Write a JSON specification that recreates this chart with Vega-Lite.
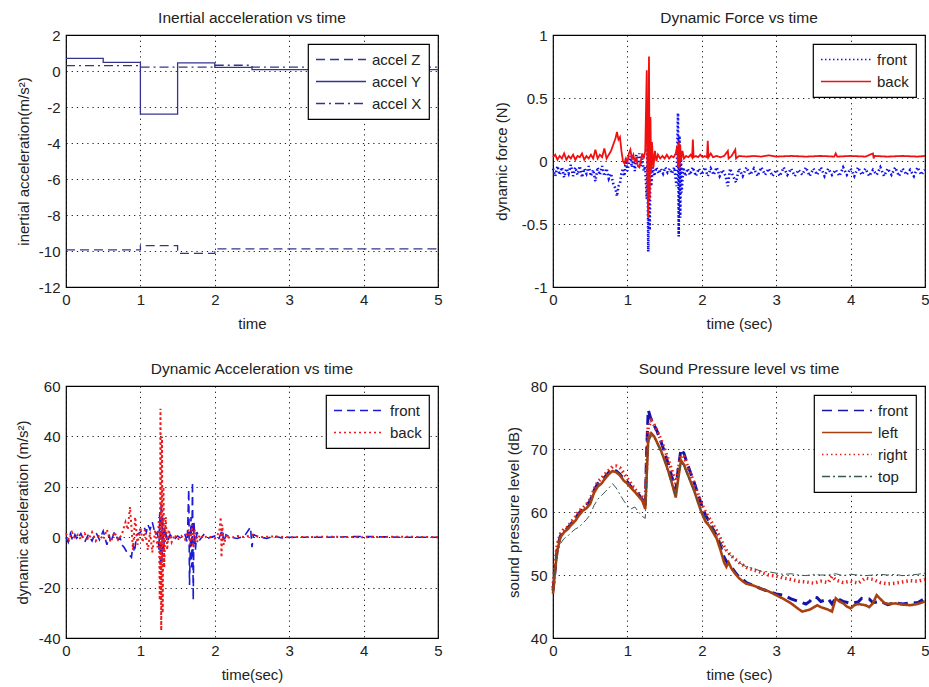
{
"$schema":"https://vega.github.io/schema/vega-lite/v6.json",
"background":"white",
"padding":{"left":14,"top":9,"right":2,"bottom":2},
"bounds":"flush",
"columns":2,
"spacing":{"row":99,"column":115},
"config":{
"font":"Liberation Sans",
"view":{"stroke":"black","strokeWidth":1.2},
"axis":{"grid":true,"gridColor":"black","gridDash":[1.2,4],"gridOpacity":0.9,"gridWidth":1,"domain":false,"ticks":false,"labelFontSize":15,"labelColor":"#222","titleFontSize":15,"titleFontWeight":"normal","titleColor":"#222","labelPadding":6,"titlePadding":7,"labelFont":"Liberation Sans","titleFont":"Liberation Sans","labelExpr":"'' + datum.value","labelFlush":false,"labelOverlap":false},
"axisX":{"labelPadding":5,"titlePadding":9},
"title":{"fontSize":15.5,"fontWeight":"normal","color":"#222","offset":2,"font":"Liberation Sans"},
"legend":{"orient":"top-right","offset":9,"strokeColor":"black","strokeWidth":1.2,"fillColor":"white","padding":7,"labelFontSize":15,"labelColor":"#222","labelFont":"Liberation Sans","title":null,"symbolType":"stroke","symbolSize":2500,"symbolStrokeWidth":1.5,"labelOffset":5,"rowPadding":5,"clipHeight":17,"cornerRadius":0}
},
"datasets":{
"ia":[
{"s":"accel Z","i":0,"t":0,"v":-9.94},{"s":"accel Z","i":1,"t":1,"v":-9.94},{"s":"accel Z","i":2,"t":1,"v":-9.7},{"s":"accel Z","i":3,"t":1.5,"v":-9.7},{"s":"accel Z","i":4,"t":1.5,"v":-10.13},{"s":"accel Z","i":5,"t":2,"v":-10.13},{"s":"accel Z","i":6,"t":2,"v":-9.88},{"s":"accel Z","i":7,"t":5,"v":-9.88},
{"s":"accel Y","i":0,"t":0,"v":0.7},{"s":"accel Y","i":1,"t":0.5,"v":0.7},{"s":"accel Y","i":2,"t":0.5,"v":0.48},{"s":"accel Y","i":3,"t":1,"v":0.48},{"s":"accel Y","i":4,"t":1,"v":-2.4},{"s":"accel Y","i":5,"t":1.5,"v":-2.4},{"s":"accel Y","i":6,"t":1.5,"v":0.45},{"s":"accel Y","i":7,"t":2,"v":0.45},{"s":"accel Y","i":8,"t":2,"v":0.2},{"s":"accel Y","i":9,"t":2.5,"v":0.2},{"s":"accel Y","i":10,"t":2.5,"v":0.08},{"s":"accel Y","i":11,"t":5,"v":0.08},
{"s":"accel X","i":0,"t":0,"v":0.3},{"s":"accel X","i":1,"t":1,"v":0.3},{"s":"accel X","i":2,"t":1,"v":0.22},{"s":"accel X","i":3,"t":2,"v":0.22},{"s":"accel X","i":4,"t":2,"v":0.32},{"s":"accel X","i":5,"t":2.5,"v":0.32},{"s":"accel X","i":6,"t":2.5,"v":0.22},{"s":"accel X","i":7,"t":5,"v":0.22}
],
"force":[
{"s":"front","t":0,"v":-0.06},{"s":"front","t":0.03,"v":-0.12},{"s":"front","t":0.06,"v":-0.04},{"s":"front","t":0.09,"v":-0.11},{"s":"front","t":0.12,"v":-0.05},{"s":"front","t":0.15,"v":-0.13},{"s":"front","t":0.18,"v":-0.06},{"s":"front","t":0.21,"v":-0.1},{"s":"front","t":0.24,"v":-0.03},{"s":"front","t":0.27,"v":-0.12},{"s":"front","t":0.3,"v":-0.05},{"s":"front","t":0.33,"v":-0.11},{"s":"front","t":0.36,"v":-0.04},{"s":"front","t":0.39,"v":-0.13},{"s":"front","t":0.42,"v":-0.06},{"s":"front","t":0.45,"v":-0.1},{"s":"front","t":0.48,"v":-0.04},{"s":"front","t":0.51,"v":-0.12},{"s":"front","t":0.54,"v":-0.07},{"s":"front","t":0.57,"v":-0.16},{"s":"front","t":0.6,"v":-0.05},{"s":"front","t":0.63,"v":-0.11},{"s":"front","t":0.66,"v":-0.04},{"s":"front","t":0.69,"v":-0.12},{"s":"front","t":0.72,"v":-0.06},{"s":"front","t":0.75,"v":-0.14},{"s":"front","t":0.78,"v":-0.1},{"s":"front","t":0.81,"v":-0.18},{"s":"front","t":0.84,"v":-0.22},{"s":"front","t":0.86,"v":-0.28},{"s":"front","t":0.88,"v":-0.2},{"s":"front","t":0.9,"v":-0.18},{"s":"front","t":0.92,"v":-0.1},{"s":"front","t":0.94,"v":-0.06},{"s":"front","t":0.96,"v":-0.12},{"s":"front","t":0.98,"v":0.02},{"s":"front","t":1,"v":-0.08},{"s":"front","t":1.02,"v":-0.02},{"s":"front","t":1.04,"v":0.04},{"s":"front","t":1.06,"v":-0.05},{"s":"front","t":1.08,"v":0.02},{"s":"front","t":1.1,"v":-0.08},{"s":"front","t":1.12,"v":0.05},{"s":"front","t":1.14,"v":-0.02},{"s":"front","t":1.16,"v":0.06},{"s":"front","t":1.18,"v":-0.04},{"s":"front","t":1.2,"v":0.02},{"s":"front","t":1.22,"v":-0.08},{"s":"front","t":1.24,"v":-0.04},{"s":"front","t":1.26,"v":-0.3},{"s":"front","t":1.27,"v":0.1},{"s":"front","t":1.28,"v":-0.72},{"s":"front","t":1.29,"v":-0.2},{"s":"front","t":1.3,"v":-0.55},{"s":"front","t":1.31,"v":0.05},{"s":"front","t":1.32,"v":-0.2},{"s":"front","t":1.34,"v":-0.05},{"s":"front","t":1.36,"v":-0.12},{"s":"front","t":1.39,"v":-0.05},{"s":"front","t":1.42,"v":-0.1},{"s":"front","t":1.45,"v":-0.06},{"s":"front","t":1.48,"v":-0.1},{"s":"front","t":1.51,"v":-0.05},{"s":"front","t":1.54,"v":-0.09},{"s":"front","t":1.57,"v":-0.06},{"s":"front","t":1.6,"v":-0.1},{"s":"front","t":1.63,"v":-0.05},{"s":"front","t":1.66,"v":-0.2},{"s":"front","t":1.68,"v":0.38},{"s":"front","t":1.69,"v":-0.6},{"s":"front","t":1.7,"v":0.2},{"s":"front","t":1.71,"v":-0.45},{"s":"front","t":1.72,"v":0.05},{"s":"front","t":1.73,"v":-0.25},{"s":"front","t":1.75,"v":-0.05},{"s":"front","t":1.78,"v":-0.12},{"s":"front","t":1.81,"v":-0.06},{"s":"front","t":1.84,"v":-0.11},{"s":"front","t":1.88,"v":-0.05},{"s":"front","t":1.92,"v":-0.12},{"s":"front","t":1.96,"v":-0.06},{"s":"front","t":2,"v":-0.11},{"s":"front","t":2.04,"v":-0.05},{"s":"front","t":2.08,"v":-0.12},{"s":"front","t":2.12,"v":-0.06},{"s":"front","t":2.16,"v":-0.11},{"s":"front","t":2.2,"v":-0.05},{"s":"front","t":2.24,"v":-0.12},{"s":"front","t":2.28,"v":-0.07},{"s":"front","t":2.32,"v":-0.12},{"s":"front","t":2.35,"v":-0.2},{"s":"front","t":2.38,"v":-0.06},{"s":"front","t":2.42,"v":-0.12},{"s":"front","t":2.46,"v":-0.17},{"s":"front","t":2.5,"v":-0.06},{"s":"front","t":2.55,"v":-0.12},{"s":"front","t":2.6,"v":-0.05},{"s":"front","t":2.65,"v":-0.11},{"s":"front","t":2.7,"v":-0.06},{"s":"front","t":2.75,"v":-0.12},{"s":"front","t":2.8,"v":-0.05},{"s":"front","t":2.85,"v":-0.11},{"s":"front","t":2.9,"v":-0.06},{"s":"front","t":2.95,"v":-0.12},{"s":"front","t":3,"v":-0.07},{"s":"front","t":3.05,"v":-0.12},{"s":"front","t":3.1,"v":-0.05},{"s":"front","t":3.15,"v":-0.11},{"s":"front","t":3.2,"v":-0.06},{"s":"front","t":3.25,"v":-0.12},{"s":"front","t":3.3,"v":-0.07},{"s":"front","t":3.35,"v":-0.11},{"s":"front","t":3.4,"v":-0.05},{"s":"front","t":3.45,"v":-0.12},{"s":"front","t":3.5,"v":-0.06},{"s":"front","t":3.55,"v":-0.11},{"s":"front","t":3.6,"v":-0.05},{"s":"front","t":3.65,"v":-0.12},{"s":"front","t":3.7,"v":-0.06},{"s":"front","t":3.75,"v":-0.11},{"s":"front","t":3.8,"v":-0.07},{"s":"front","t":3.85,"v":-0.12},{"s":"front","t":3.9,"v":-0.05},{"s":"front","t":3.95,"v":-0.11},{"s":"front","t":4,"v":-0.06},{"s":"front","t":4.05,"v":-0.12},{"s":"front","t":4.1,"v":-0.05},{"s":"front","t":4.15,"v":-0.11},{"s":"front","t":4.2,"v":-0.06},{"s":"front","t":4.25,"v":-0.12},{"s":"front","t":4.3,"v":-0.07},{"s":"front","t":4.35,"v":-0.11},{"s":"front","t":4.4,"v":-0.05},{"s":"front","t":4.45,"v":-0.12},{"s":"front","t":4.5,"v":-0.06},{"s":"front","t":4.55,"v":-0.11},{"s":"front","t":4.6,"v":-0.05},{"s":"front","t":4.65,"v":-0.12},{"s":"front","t":4.7,"v":-0.06},{"s":"front","t":4.75,"v":-0.11},{"s":"front","t":4.8,"v":-0.07},{"s":"front","t":4.85,"v":-0.12},{"s":"front","t":4.9,"v":-0.05},{"s":"front","t":4.95,"v":-0.11},{"s":"front","t":5,"v":-0.07},
{"s":"back","t":0,"v":0.03},{"s":"back","t":0.03,"v":0.05},{"s":"back","t":0.06,"v":0.01},{"s":"back","t":0.09,"v":0.04},{"s":"back","t":0.12,"v":0.02},{"s":"back","t":0.15,"v":0.06},{"s":"back","t":0.18,"v":0.01},{"s":"back","t":0.21,"v":0.04},{"s":"back","t":0.24,"v":0.02},{"s":"back","t":0.27,"v":0.05},{"s":"back","t":0.3,"v":0.01},{"s":"back","t":0.33,"v":0.04},{"s":"back","t":0.36,"v":0.03},{"s":"back","t":0.39,"v":0.06},{"s":"back","t":0.42,"v":0.01},{"s":"back","t":0.45,"v":0.04},{"s":"back","t":0.48,"v":0.02},{"s":"back","t":0.51,"v":0.05},{"s":"back","t":0.54,"v":0.02},{"s":"back","t":0.57,"v":0.09},{"s":"back","t":0.6,"v":0.02},{"s":"back","t":0.63,"v":0.05},{"s":"back","t":0.66,"v":0.03},{"s":"back","t":0.69,"v":0.1},{"s":"back","t":0.72,"v":0.02},{"s":"back","t":0.75,"v":0.05},{"s":"back","t":0.78,"v":0.08},{"s":"back","t":0.81,"v":0.13},{"s":"back","t":0.84,"v":0.18},{"s":"back","t":0.86,"v":0.23},{"s":"back","t":0.88,"v":0.17},{"s":"back","t":0.9,"v":0.19},{"s":"back","t":0.92,"v":0.08},{"s":"back","t":0.94,"v":0},{"s":"back","t":0.96,"v":-0.02},{"s":"back","t":0.98,"v":0.02},{"s":"back","t":1,"v":-0.01},{"s":"back","t":1.02,"v":0.06},{"s":"back","t":1.04,"v":0.09},{"s":"back","t":1.06,"v":0.02},{"s":"back","t":1.08,"v":0.05},{"s":"back","t":1.1,"v":-0.01},{"s":"back","t":1.12,"v":0.03},{"s":"back","t":1.14,"v":-0.04},{"s":"back","t":1.16,"v":-0.05},{"s":"back","t":1.18,"v":0},{"s":"back","t":1.2,"v":0.06},{"s":"back","t":1.22,"v":0.02},{"s":"back","t":1.24,"v":0.08},{"s":"back","t":1.26,"v":0.72},{"s":"back","t":1.27,"v":-0.2},{"s":"back","t":1.28,"v":-0.45},{"s":"back","t":1.29,"v":0.83},{"s":"back","t":1.3,"v":-0.3},{"s":"back","t":1.31,"v":0.35},{"s":"back","t":1.32,"v":-0.1},{"s":"back","t":1.33,"v":0.15},{"s":"back","t":1.35,"v":-0.05},{"s":"back","t":1.37,"v":0.08},{"s":"back","t":1.39,"v":0},{"s":"back","t":1.41,"v":0.05},{"s":"back","t":1.44,"v":0.02},{"s":"back","t":1.47,"v":0.04},{"s":"back","t":1.5,"v":0.02},{"s":"back","t":1.53,"v":0.05},{"s":"back","t":1.56,"v":0.02},{"s":"back","t":1.59,"v":0.04},{"s":"back","t":1.62,"v":0.03},{"s":"back","t":1.65,"v":0.06},{"s":"back","t":1.67,"v":0.12},{"s":"back","t":1.68,"v":-0.05},{"s":"back","t":1.69,"v":0.15},{"s":"back","t":1.7,"v":-0.06},{"s":"back","t":1.71,"v":0.13},{"s":"back","t":1.72,"v":0},{"s":"back","t":1.74,"v":0.08},{"s":"back","t":1.76,"v":0.02},{"s":"back","t":1.79,"v":0.04},{"s":"back","t":1.82,"v":0.03},{"s":"back","t":1.85,"v":0.05},{"s":"back","t":1.87,"v":0.03},{"s":"back","t":1.88,"v":0.17},{"s":"back","t":1.89,"v":0.03},{"s":"back","t":1.92,"v":0.04},{"s":"back","t":1.95,"v":0.03},{"s":"back","t":1.98,"v":0.05},{"s":"back","t":2.01,"v":0.03},{"s":"back","t":2.04,"v":0.04},{"s":"back","t":2.07,"v":0.03},{"s":"back","t":2.08,"v":0.16},{"s":"back","t":2.09,"v":0.03},{"s":"back","t":2.12,"v":0.06},{"s":"back","t":2.15,"v":0.03},{"s":"back","t":2.2,"v":0.04},{"s":"back","t":2.25,"v":0.03},{"s":"back","t":2.3,"v":0.04},{"s":"back","t":2.35,"v":0.08},{"s":"back","t":2.36,"v":0.02},{"s":"back","t":2.4,"v":0.04},{"s":"back","t":2.45,"v":0.09},{"s":"back","t":2.46,"v":0.02},{"s":"back","t":2.5,"v":0.04},{"s":"back","t":2.6,"v":0.035},{"s":"back","t":2.7,"v":0.04},{"s":"back","t":2.8,"v":0.035},{"s":"back","t":2.9,"v":0.045},{"s":"back","t":3,"v":0.035},{"s":"back","t":3.2,"v":0.04},{"s":"back","t":3.4,"v":0.035},{"s":"back","t":3.6,"v":0.04},{"s":"back","t":3.78,"v":0.035},{"s":"back","t":3.8,"v":0.06},{"s":"back","t":3.82,"v":0.035},{"s":"back","t":4,"v":0.04},{"s":"back","t":4.2,"v":0.035},{"s":"back","t":4.3,"v":0.06},{"s":"back","t":4.31,"v":0.02},{"s":"back","t":4.32,"v":0.04},{"s":"back","t":4.5,"v":0.035},{"s":"back","t":4.7,"v":0.04},{"s":"back","t":4.9,"v":0.035},{"s":"back","t":5,"v":0.04}
],
"dacc":[
{"s":"front","t":0,"v":0},{"s":"front","t":0.03,"v":-2},{"s":"front","t":0.06,"v":1.5},{"s":"front","t":0.09,"v":-1.5},{"s":"front","t":0.12,"v":1},{"s":"front","t":0.15,"v":-1},{"s":"front","t":0.2,"v":1.5},{"s":"front","t":0.25,"v":-2},{"s":"front","t":0.3,"v":1},{"s":"front","t":0.35,"v":-1.5},{"s":"front","t":0.4,"v":2},{"s":"front","t":0.45,"v":-1},{"s":"front","t":0.5,"v":2.5},{"s":"front","t":0.55,"v":-3},{"s":"front","t":0.58,"v":1},{"s":"front","t":0.6,"v":-2},{"s":"front","t":0.65,"v":2},{"s":"front","t":0.7,"v":-1},{"s":"front","t":0.73,"v":-0.5},{"s":"front","t":0.75,"v":-3},{"s":"front","t":0.78,"v":-4},{"s":"front","t":0.82,"v":-6},{"s":"front","t":0.85,"v":-7},{"s":"front","t":0.88,"v":-8},{"s":"front","t":0.9,"v":-3},{"s":"front","t":0.92,"v":-6},{"s":"front","t":0.95,"v":1},{"s":"front","t":1,"v":2},{"s":"front","t":1.05,"v":4},{"s":"front","t":1.08,"v":2},{"s":"front","t":1.1,"v":5},{"s":"front","t":1.13,"v":3},{"s":"front","t":1.16,"v":6},{"s":"front","t":1.2,"v":1},{"s":"front","t":1.23,"v":2},{"s":"front","t":1.25,"v":-5},{"s":"front","t":1.26,"v":10},{"s":"front","t":1.27,"v":-12},{"s":"front","t":1.28,"v":14},{"s":"front","t":1.29,"v":-10},{"s":"front","t":1.3,"v":8},{"s":"front","t":1.31,"v":-6},{"s":"front","t":1.33,"v":4},{"s":"front","t":1.36,"v":-2},{"s":"front","t":1.4,"v":1},{"s":"front","t":1.45,"v":-1},{"s":"front","t":1.5,"v":0.5},{"s":"front","t":1.55,"v":-0.5},{"s":"front","t":1.6,"v":1},{"s":"front","t":1.63,"v":-2},{"s":"front","t":1.65,"v":19},{"s":"front","t":1.66,"v":-19},{"s":"front","t":1.68,"v":8},{"s":"front","t":1.69,"v":-12},{"s":"front","t":1.7,"v":22},{"s":"front","t":1.71,"v":-25},{"s":"front","t":1.72,"v":6},{"s":"front","t":1.74,"v":-5},{"s":"front","t":1.76,"v":2},{"s":"front","t":1.8,"v":-1},{"s":"front","t":1.85,"v":1},{"s":"front","t":1.9,"v":-0.5},{"s":"front","t":2,"v":0.5},{"s":"front","t":2.05,"v":-1},{"s":"front","t":2.1,"v":3},{"s":"front","t":2.12,"v":-2},{"s":"front","t":2.15,"v":1},{"s":"front","t":2.2,"v":0},{"s":"front","t":2.3,"v":-0.5},{"s":"front","t":2.4,"v":0.5},{"s":"front","t":2.48,"v":4},{"s":"front","t":2.5,"v":-4},{"s":"front","t":2.52,"v":1},{"s":"front","t":2.6,"v":0},{"s":"front","t":2.7,"v":-0.5},{"s":"front","t":2.8,"v":0.5},{"s":"front","t":2.9,"v":-0.3},{"s":"front","t":3,"v":0},{"s":"front","t":3.5,"v":0},{"s":"front","t":4,"v":0.3},{"s":"front","t":4.5,"v":0},{"s":"front","t":5,"v":0},
{"s":"back","t":0,"v":1.5},{"s":"back","t":0.04,"v":-1},{"s":"back","t":0.08,"v":2},{"s":"back","t":0.12,"v":-0.5},{"s":"back","t":0.16,"v":1},{"s":"back","t":0.2,"v":-1},{"s":"back","t":0.25,"v":1.5},{"s":"back","t":0.3,"v":-1},{"s":"back","t":0.35,"v":2},{"s":"back","t":0.4,"v":-1.5},{"s":"back","t":0.45,"v":1},{"s":"back","t":0.5,"v":-1},{"s":"back","t":0.55,"v":3},{"s":"back","t":0.6,"v":-2},{"s":"back","t":0.65,"v":2},{"s":"back","t":0.7,"v":-1},{"s":"back","t":0.75,"v":1},{"s":"back","t":0.8,"v":6},{"s":"back","t":0.83,"v":3},{"s":"back","t":0.86,"v":12},{"s":"back","t":0.88,"v":4},{"s":"back","t":0.9,"v":-5},{"s":"back","t":0.93,"v":8},{"s":"back","t":0.96,"v":-3},{"s":"back","t":1,"v":4},{"s":"back","t":1.03,"v":-2},{"s":"back","t":1.06,"v":3},{"s":"back","t":1.1,"v":-5},{"s":"back","t":1.13,"v":2},{"s":"back","t":1.16,"v":-6},{"s":"back","t":1.2,"v":3},{"s":"back","t":1.23,"v":-4},{"s":"back","t":1.25,"v":8},{"s":"back","t":1.26,"v":-25},{"s":"back","t":1.27,"v":51},{"s":"back","t":1.28,"v":-37},{"s":"back","t":1.29,"v":40},{"s":"back","t":1.3,"v":-30},{"s":"back","t":1.31,"v":20},{"s":"back","t":1.32,"v":-12},{"s":"back","t":1.34,"v":8},{"s":"back","t":1.36,"v":-5},{"s":"back","t":1.38,"v":3},{"s":"back","t":1.42,"v":-2},{"s":"back","t":1.46,"v":1},{"s":"back","t":1.5,"v":-1},{"s":"back","t":1.55,"v":0.5},{"s":"back","t":1.6,"v":-1},{"s":"back","t":1.65,"v":3},{"s":"back","t":1.67,"v":-3},{"s":"back","t":1.69,"v":5},{"s":"back","t":1.71,"v":-4},{"s":"back","t":1.73,"v":3},{"s":"back","t":1.76,"v":-2},{"s":"back","t":1.8,"v":1},{"s":"back","t":1.85,"v":-0.5},{"s":"back","t":1.9,"v":0.5},{"s":"back","t":2,"v":-0.5},{"s":"back","t":2.06,"v":2},{"s":"back","t":2.08,"v":8},{"s":"back","t":2.09,"v":-8},{"s":"back","t":2.1,"v":5},{"s":"back","t":2.12,"v":-3},{"s":"back","t":2.16,"v":1},{"s":"back","t":2.2,"v":-0.5},{"s":"back","t":2.3,"v":0.5},{"s":"back","t":2.4,"v":0},{"s":"back","t":2.5,"v":1},{"s":"back","t":2.6,"v":0},{"s":"back","t":2.8,"v":0.3},{"s":"back","t":3,"v":0},{"s":"back","t":3.5,"v":0.2},{"s":"back","t":4,"v":0},{"s":"back","t":4.5,"v":0.2},{"s":"back","t":5,"v":0}
],
"spl":[
{"s":"front","t":0,"v":47.5},{"s":"front","t":0.03,"v":51},{"s":"front","t":0.06,"v":54.5},{"s":"front","t":0.1,"v":56.2},{"s":"front","t":0.15,"v":57},{"s":"front","t":0.2,"v":57.5},{"s":"front","t":0.25,"v":58.2},{"s":"front","t":0.3,"v":59},{"s":"front","t":0.35,"v":59.8},{"s":"front","t":0.4,"v":60.5},{"s":"front","t":0.45,"v":61},{"s":"front","t":0.5,"v":61.8},{"s":"front","t":0.55,"v":63.4},{"s":"front","t":0.6,"v":64.5},{"s":"front","t":0.65,"v":65},{"s":"front","t":0.7,"v":65.6},{"s":"front","t":0.75,"v":66.3},{"s":"front","t":0.8,"v":66.8},{"s":"front","t":0.85,"v":66.5},{"s":"front","t":0.9,"v":66},{"s":"front","t":0.95,"v":65.2},{"s":"front","t":1,"v":64.8},{"s":"front","t":1.05,"v":64},{"s":"front","t":1.1,"v":63.3},{"s":"front","t":1.15,"v":62.8},{"s":"front","t":1.2,"v":62},{"s":"front","t":1.24,"v":61},{"s":"front","t":1.26,"v":70},{"s":"front","t":1.28,"v":76.2},{"s":"front","t":1.31,"v":75},{"s":"front","t":1.35,"v":74},{"s":"front","t":1.4,"v":72.8},{"s":"front","t":1.45,"v":71.2},{"s":"front","t":1.5,"v":69.5},{"s":"front","t":1.55,"v":67.6},{"s":"front","t":1.6,"v":65.5},{"s":"front","t":1.65,"v":63.5},{"s":"front","t":1.68,"v":66.5},{"s":"front","t":1.72,"v":70},{"s":"front","t":1.76,"v":69.3},{"s":"front","t":1.8,"v":67.8},{"s":"front","t":1.85,"v":66.2},{"s":"front","t":1.9,"v":64.6},{"s":"front","t":1.95,"v":62.8},{"s":"front","t":2,"v":61},{"s":"front","t":2.05,"v":59.5},{"s":"front","t":2.1,"v":58.5},{"s":"front","t":2.15,"v":57.3},{"s":"front","t":2.2,"v":56.2},{"s":"front","t":2.25,"v":54.6},{"s":"front","t":2.3,"v":52.8},{"s":"front","t":2.35,"v":51.8},{"s":"front","t":2.4,"v":51.2},{"s":"front","t":2.45,"v":50.4},{"s":"front","t":2.5,"v":49.7},{"s":"front","t":2.55,"v":49.3},{"s":"front","t":2.6,"v":48.8},{"s":"front","t":2.7,"v":48.3},{"s":"front","t":2.8,"v":47.8},{"s":"front","t":2.9,"v":47.4},{"s":"front","t":3,"v":47},{"s":"front","t":3.1,"v":46.8},{"s":"front","t":3.2,"v":46.2},{"s":"front","t":3.3,"v":45.8},{"s":"front","t":3.4,"v":45.4},{"s":"front","t":3.45,"v":45.8},{"s":"front","t":3.5,"v":46.5},{"s":"front","t":3.55,"v":46.4},{"s":"front","t":3.6,"v":45.8},{"s":"front","t":3.7,"v":46.2},{"s":"front","t":3.75,"v":45.4},{"s":"front","t":3.8,"v":46.4},{"s":"front","t":3.9,"v":45.8},{"s":"front","t":4,"v":45.5},{"s":"front","t":4.1,"v":45.7},{"s":"front","t":4.15,"v":46.3},{"s":"front","t":4.25,"v":46.2},{"s":"front","t":4.3,"v":45.6},{"s":"front","t":4.4,"v":45.8},{"s":"front","t":4.5,"v":45.3},{"s":"front","t":4.6,"v":45.6},{"s":"front","t":4.7,"v":45.4},{"s":"front","t":4.8,"v":45.6},{"s":"front","t":4.9,"v":45.6},{"s":"front","t":5,"v":46.3},
{"s":"left","t":0,"v":47},{"s":"left","t":0.03,"v":51},{"s":"left","t":0.06,"v":54},{"s":"left","t":0.1,"v":56},{"s":"left","t":0.15,"v":56.8},{"s":"left","t":0.2,"v":57.3},{"s":"left","t":0.25,"v":58},{"s":"left","t":0.3,"v":58.6},{"s":"left","t":0.35,"v":59.5},{"s":"left","t":0.4,"v":60.2},{"s":"left","t":0.45,"v":60.6},{"s":"left","t":0.5,"v":61.3},{"s":"left","t":0.55,"v":63},{"s":"left","t":0.6,"v":64},{"s":"left","t":0.65,"v":64.5},{"s":"left","t":0.7,"v":65.3},{"s":"left","t":0.75,"v":66},{"s":"left","t":0.8,"v":66.5},{"s":"left","t":0.85,"v":66.3},{"s":"left","t":0.9,"v":65.8},{"s":"left","t":0.95,"v":65},{"s":"left","t":1,"v":64.5},{"s":"left","t":1.05,"v":63.8},{"s":"left","t":1.1,"v":63.2},{"s":"left","t":1.15,"v":62.5},{"s":"left","t":1.2,"v":61.8},{"s":"left","t":1.24,"v":60.5},{"s":"left","t":1.26,"v":66},{"s":"left","t":1.28,"v":71.5},{"s":"left","t":1.32,"v":72.5},{"s":"left","t":1.36,"v":72},{"s":"left","t":1.4,"v":71},{"s":"left","t":1.45,"v":69.8},{"s":"left","t":1.5,"v":68.2},{"s":"left","t":1.55,"v":66.5},{"s":"left","t":1.6,"v":64.5},{"s":"left","t":1.65,"v":62.3},{"s":"left","t":1.68,"v":65},{"s":"left","t":1.72,"v":68.2},{"s":"left","t":1.76,"v":67.5},{"s":"left","t":1.8,"v":66.3},{"s":"left","t":1.85,"v":64.8},{"s":"left","t":1.9,"v":63.3},{"s":"left","t":1.95,"v":61.5},{"s":"left","t":2,"v":59.8},{"s":"left","t":2.05,"v":58.5},{"s":"left","t":2.1,"v":57.8},{"s":"left","t":2.15,"v":56.8},{"s":"left","t":2.2,"v":55.8},{"s":"left","t":2.25,"v":54},{"s":"left","t":2.3,"v":52},{"s":"left","t":2.33,"v":51.3},{"s":"left","t":2.36,"v":52},{"s":"left","t":2.4,"v":51},{"s":"left","t":2.45,"v":50.2},{"s":"left","t":2.5,"v":49.5},{"s":"left","t":2.55,"v":49},{"s":"left","t":2.6,"v":48.6},{"s":"left","t":2.7,"v":48.3},{"s":"left","t":2.8,"v":47.8},{"s":"left","t":2.9,"v":47.4},{"s":"left","t":3,"v":46.8},{"s":"left","t":3.1,"v":46.2},{"s":"left","t":3.2,"v":45.5},{"s":"left","t":3.3,"v":44.6},{"s":"left","t":3.35,"v":44.2},{"s":"left","t":3.45,"v":44.5},{"s":"left","t":3.55,"v":45.2},{"s":"left","t":3.6,"v":44.9},{"s":"left","t":3.7,"v":44.5},{"s":"left","t":3.75,"v":44.2},{"s":"left","t":3.8,"v":46.3},{"s":"left","t":3.85,"v":45.8},{"s":"left","t":3.9,"v":45.5},{"s":"left","t":3.95,"v":45},{"s":"left","t":4,"v":44.7},{"s":"left","t":4.05,"v":45.2},{"s":"left","t":4.1,"v":45.4},{"s":"left","t":4.2,"v":45.2},{"s":"left","t":4.25,"v":44.9},{"s":"left","t":4.3,"v":45.5},{"s":"left","t":4.35,"v":46.8},{"s":"left","t":4.4,"v":46.2},{"s":"left","t":4.45,"v":45.6},{"s":"left","t":4.5,"v":45.4},{"s":"left","t":4.6,"v":45.5},{"s":"left","t":4.7,"v":45.3},{"s":"left","t":4.8,"v":45.2},{"s":"left","t":4.9,"v":45.4},{"s":"left","t":5,"v":45.8},
{"s":"right","t":0,"v":48},{"s":"right","t":0.03,"v":52},{"s":"right","t":0.06,"v":55},{"s":"right","t":0.1,"v":56.5},{"s":"right","t":0.15,"v":57.3},{"s":"right","t":0.2,"v":57.6},{"s":"right","t":0.25,"v":58.5},{"s":"right","t":0.3,"v":59.2},{"s":"right","t":0.35,"v":60.2},{"s":"right","t":0.4,"v":60.6},{"s":"right","t":0.45,"v":61.2},{"s":"right","t":0.5,"v":62},{"s":"right","t":0.55,"v":63.5},{"s":"right","t":0.6,"v":64.8},{"s":"right","t":0.65,"v":65.3},{"s":"right","t":0.7,"v":66},{"s":"right","t":0.75,"v":66.6},{"s":"right","t":0.8,"v":67.2},{"s":"right","t":0.85,"v":67.3},{"s":"right","t":0.9,"v":67},{"s":"right","t":0.95,"v":66.2},{"s":"right","t":1,"v":65.3},{"s":"right","t":1.05,"v":64.5},{"s":"right","t":1.1,"v":63.6},{"s":"right","t":1.15,"v":63},{"s":"right","t":1.2,"v":62.3},{"s":"right","t":1.24,"v":61.5},{"s":"right","t":1.26,"v":68},{"s":"right","t":1.28,"v":73.5},{"s":"right","t":1.32,"v":74.5},{"s":"right","t":1.36,"v":73.8},{"s":"right","t":1.4,"v":72.8},{"s":"right","t":1.45,"v":71.5},{"s":"right","t":1.5,"v":70},{"s":"right","t":1.55,"v":68.3},{"s":"right","t":1.6,"v":66.5},{"s":"right","t":1.65,"v":64.5},{"s":"right","t":1.68,"v":66.5},{"s":"right","t":1.72,"v":69},{"s":"right","t":1.76,"v":68.8},{"s":"right","t":1.8,"v":67.5},{"s":"right","t":1.85,"v":66},{"s":"right","t":1.9,"v":64.5},{"s":"right","t":1.95,"v":62.8},{"s":"right","t":2,"v":61.2},{"s":"right","t":2.05,"v":60},{"s":"right","t":2.1,"v":59},{"s":"right","t":2.15,"v":58},{"s":"right","t":2.2,"v":57},{"s":"right","t":2.25,"v":55.8},{"s":"right","t":2.3,"v":54.5},{"s":"right","t":2.35,"v":53.6},{"s":"right","t":2.4,"v":53},{"s":"right","t":2.45,"v":52.5},{"s":"right","t":2.5,"v":52},{"s":"right","t":2.55,"v":51.6},{"s":"right","t":2.6,"v":51.2},{"s":"right","t":2.7,"v":50.8},{"s":"right","t":2.8,"v":50.4},{"s":"right","t":2.9,"v":50},{"s":"right","t":3,"v":49.8},{"s":"right","t":3.1,"v":49.5},{"s":"right","t":3.2,"v":49.3},{"s":"right","t":3.3,"v":49},{"s":"right","t":3.4,"v":48.9},{"s":"right","t":3.5,"v":48.7},{"s":"right","t":3.6,"v":49},{"s":"right","t":3.7,"v":48.8},{"s":"right","t":3.75,"v":49.8},{"s":"right","t":3.8,"v":49.2},{"s":"right","t":3.9,"v":48.8},{"s":"right","t":4,"v":49},{"s":"right","t":4.1,"v":48.7},{"s":"right","t":4.2,"v":49.5},{"s":"right","t":4.3,"v":49.3},{"s":"right","t":4.4,"v":48.8},{"s":"right","t":4.5,"v":48.6},{"s":"right","t":4.6,"v":48.7},{"s":"right","t":4.7,"v":48.9},{"s":"right","t":4.8,"v":49.1},{"s":"right","t":4.9,"v":49},{"s":"right","t":5,"v":49.3},
{"s":"top","t":0,"v":47.5},{"s":"top","t":0.03,"v":51},{"s":"top","t":0.06,"v":53.5},{"s":"top","t":0.1,"v":55},{"s":"top","t":0.15,"v":55.8},{"s":"top","t":0.2,"v":56.2},{"s":"top","t":0.25,"v":56.8},{"s":"top","t":0.3,"v":57.3},{"s":"top","t":0.35,"v":57.6},{"s":"top","t":0.4,"v":58.2},{"s":"top","t":0.45,"v":58.8},{"s":"top","t":0.5,"v":59.6},{"s":"top","t":0.55,"v":61},{"s":"top","t":0.6,"v":62},{"s":"top","t":0.65,"v":62.6},{"s":"top","t":0.7,"v":63.2},{"s":"top","t":0.75,"v":63.8},{"s":"top","t":0.8,"v":64.5},{"s":"top","t":0.85,"v":63.8},{"s":"top","t":0.9,"v":62.8},{"s":"top","t":0.95,"v":61.8},{"s":"top","t":1,"v":61},{"s":"top","t":1.05,"v":60.5},{"s":"top","t":1.1,"v":60.8},{"s":"top","t":1.15,"v":60},{"s":"top","t":1.2,"v":59.3},{"s":"top","t":1.24,"v":59},{"s":"top","t":1.26,"v":65},{"s":"top","t":1.28,"v":71},{"s":"top","t":1.32,"v":72},{"s":"top","t":1.36,"v":71.8},{"s":"top","t":1.4,"v":70.8},{"s":"top","t":1.45,"v":69.5},{"s":"top","t":1.5,"v":68},{"s":"top","t":1.55,"v":66.2},{"s":"top","t":1.6,"v":64.2},{"s":"top","t":1.65,"v":62.5},{"s":"top","t":1.68,"v":65},{"s":"top","t":1.72,"v":67.8},{"s":"top","t":1.76,"v":67.3},{"s":"top","t":1.8,"v":66},{"s":"top","t":1.85,"v":64.6},{"s":"top","t":1.9,"v":63.1},{"s":"top","t":1.95,"v":61.5},{"s":"top","t":2,"v":60},{"s":"top","t":2.05,"v":59},{"s":"top","t":2.1,"v":58.2},{"s":"top","t":2.15,"v":57.3},{"s":"top","t":2.2,"v":56.4},{"s":"top","t":2.25,"v":55.3},{"s":"top","t":2.3,"v":54.2},{"s":"top","t":2.35,"v":53.5},{"s":"top","t":2.4,"v":53},{"s":"top","t":2.45,"v":52.5},{"s":"top","t":2.5,"v":52},{"s":"top","t":2.55,"v":51.6},{"s":"top","t":2.6,"v":51.3},{"s":"top","t":2.7,"v":51},{"s":"top","t":2.8,"v":50.6},{"s":"top","t":2.9,"v":50.5},{"s":"top","t":3,"v":50.3},{"s":"top","t":3.1,"v":50.1},{"s":"top","t":3.2,"v":50.2},{"s":"top","t":3.3,"v":50},{"s":"top","t":3.4,"v":49.9},{"s":"top","t":3.5,"v":50.1},{"s":"top","t":3.6,"v":50},{"s":"top","t":3.7,"v":50},{"s":"top","t":3.8,"v":50.2},{"s":"top","t":3.9,"v":49.9},{"s":"top","t":4,"v":50.1},{"s":"top","t":4.1,"v":50},{"s":"top","t":4.2,"v":49.9},{"s":"top","t":4.3,"v":50},{"s":"top","t":4.4,"v":50.1},{"s":"top","t":4.5,"v":50},{"s":"top","t":4.6,"v":50.1},{"s":"top","t":4.7,"v":49.9},{"s":"top","t":4.8,"v":50},{"s":"top","t":4.9,"v":50.1},{"s":"top","t":5,"v":50.3}
]
},
"concat":[
{"width":372,"height":252,"title":"Inertial acceleration vs time","data":{"name":"ia"},
"mark":{"type":"line","strokeWidth":1.3},
"encoding":{
"x":{"field":"t","type":"quantitative","scale":{"domain":[0,5],"nice":false},"axis":{"values":[0,1,2,3,4,5],"title":"time"}},
"y":{"field":"v","type":"quantitative","scale":{"domain":[-12,2],"nice":false},"axis":{"values":[-12,-10,-8,-6,-4,-2,0,2],"title":"inertial acceleration(m/s²)","titlePadding":7}},
"order":{"field":"i","type":"quantitative"},
"color":{"field":"s","type":"nominal","scale":{"domain":["accel Z","accel Y","accel X"],"range":["#34348f","#34348f","#34348f"]}},
"strokeDash":{"field":"s","type":"nominal","scale":{"domain":["accel Z","accel Y","accel X"],"range":[[9,5],[1,0],[9,4,2,4]]}}
}},
{"width":372,"height":252,"title":"Dynamic Force vs time","data":{"name":"force"},
"layer":[
{"transform":[{"filter":"datum.s == 'front'"}],"mark":{"type":"line","strokeWidth":2.6},
"encoding":{
"x":{"field":"t","type":"quantitative","scale":{"domain":[0,5],"nice":false},"axis":{"values":[0,1,2,3,4,5],"title":"time (sec)"}},
"y":{"field":"v","type":"quantitative","scale":{"domain":[-1,1],"nice":false},"axis":{"values":[-1,-0.5,0,0.5,1],"title":"dynamic force (N)","titlePadding":12}},
"color":{"field":"s","type":"nominal","scale":{"domain":["front","back"],"range":["#1010f0","#f01010"]}},
"strokeDash":{"field":"s","type":"nominal","scale":{"domain":["front","back"],"range":[[1.5,2.5],[1,0]]}}
}},
{"transform":[{"filter":"datum.s == 'back'"}],"mark":{"type":"line","strokeWidth":1.8},
"encoding":{
"x":{"field":"t","type":"quantitative"},
"y":{"field":"v","type":"quantitative"},
"color":{"field":"s","type":"nominal"},
"strokeDash":{"field":"s","type":"nominal"}
}}
]},
{"width":372,"height":252,"title":"Dynamic Acceleration vs time","data":{"name":"dacc"},
"layer":[
{"transform":[{"filter":"datum.s == 'front'"}],"mark":{"type":"line","strokeWidth":1.6},
"encoding":{
"x":{"field":"t","type":"quantitative","scale":{"domain":[0,5],"nice":false},"axis":{"values":[0,1,2,3,4,5],"title":"time(sec)"}},
"y":{"field":"v","type":"quantitative","scale":{"domain":[-40,60],"nice":false},"axis":{"values":[-40,-20,0,20,40,60],"title":"dynamic acceleration (m/s²)","titlePadding":8}},
"color":{"field":"s","type":"nominal","scale":{"domain":["front","back"],"range":["#1a1ad8","#f01818"]}},
"strokeDash":{"field":"s","type":"nominal","scale":{"domain":["front","back"],"range":[[8,5],[2,3]]}}
}},
{"transform":[{"filter":"datum.s == 'back'"}],"mark":{"type":"line","strokeWidth":2},
"encoding":{
"x":{"field":"t","type":"quantitative"},
"y":{"field":"v","type":"quantitative"},
"color":{"field":"s","type":"nominal"},
"strokeDash":{"field":"s","type":"nominal"}
}}
]},
{"width":372,"height":252,"title":"Sound Pressure level vs time","data":{"name":"spl"},
"layer":[
{"transform":[{"filter":"datum.s == 'front'"}],"mark":{"type":"line","strokeWidth":3},
"encoding":{
"x":{"field":"t","type":"quantitative","scale":{"domain":[0,5],"nice":false},"axis":{"values":[0,1,2,3,4,5],"title":"time (sec)"}},
"y":{"field":"v","type":"quantitative","scale":{"domain":[40,80],"nice":false},"axis":{"values":[40,50,60,70,80],"title":"sound pressure level (dB)","titlePadding":9}},
"color":{"field":"s","type":"nominal","scale":{"domain":["front","left","right","top"],"range":["#1414a8","#a8400f","#e8201a","#3a5a4c"]}},
"strokeDash":{"field":"s","type":"nominal","scale":{"domain":["front","left","right","top"],"range":[[10,6],[1,0],[1.5,3],[8,3,2,3]]}}
}},
{"transform":[{"filter":"datum.s == 'right'"}],"mark":{"type":"line","strokeWidth":3.5},
"encoding":{"x":{"field":"t","type":"quantitative"},"y":{"field":"v","type":"quantitative"},"color":{"field":"s","type":"nominal"},"strokeDash":{"field":"s","type":"nominal"}}},
{"transform":[{"filter":"datum.s == 'left'"}],"mark":{"type":"line","strokeWidth":2.6},
"encoding":{"x":{"field":"t","type":"quantitative"},"y":{"field":"v","type":"quantitative"},"color":{"field":"s","type":"nominal"},"strokeDash":{"field":"s","type":"nominal"}}},
{"transform":[{"filter":"datum.s == 'top'"}],"mark":{"type":"line","strokeWidth":1},
"encoding":{"x":{"field":"t","type":"quantitative"},"y":{"field":"v","type":"quantitative"},"color":{"field":"s","type":"nominal"},"strokeDash":{"field":"s","type":"nominal"}}}
]}
],
"resolve":{"scale":{"x":"independent","y":"independent","color":"independent","strokeDash":"independent"},"legend":{"color":"independent","strokeDash":"independent"}}
}
